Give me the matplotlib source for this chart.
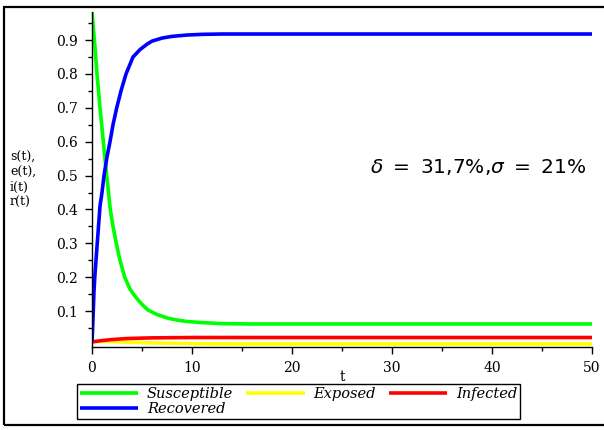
import matplotlib
matplotlib.use("Agg")
import matplotlib.pyplot as plt
from matplotlib.patches import Rectangle
from matplotlib.ticker import MultipleLocator

# values
t_s = [0, 0.15, 0.3, 0.47, 0.65, 0.8, 1.0, 1.13, 1.3, 1.47, 1.65, 1.83, 2.1,
       2.43, 2.8, 3.27, 3.8, 4.2, 4.6, 5.1, 5.6, 6.5, 7.6, 8.6, 9.6, 11, 13,
       16, 20, 30, 40, 50]
s_vals = [0.983, 0.93, 0.88, 0.81, 0.75, 0.7, 0.64, 0.6, 0.55, 0.5, 0.45, 0.4,
          0.35, 0.3, 0.25, 0.2, 0.165, 0.148, 0.133, 0.117, 0.103, 0.09, 0.079,
          0.073, 0.069, 0.066, 0.063, 0.062, 0.062, 0.062, 0.062, 0.062]

t_e = [0, 1, 2, 3, 4, 6, 8, 10, 14, 20, 30, 40, 50]
e_vals = [0.010, 0.011, 0.010, 0.009, 0.008, 0.006, 0.005, 0.004, 0.003,
          0.003, 0.003, 0.003, 0.003]

t_i = [0, 1, 2, 3.5, 6, 10, 20, 30, 40, 50]
i_vals = [0.009, 0.013, 0.016, 0.019, 0.021, 0.022, 0.022, 0.022, 0.022, 0.022]

t_r = [0, 0.05, 0.1, 0.2, 0.3, 0.45, 0.6, 0.8, 1.0, 1.2, 1.5, 1.8, 2.1, 2.47,
       2.9, 3.4, 4.1, 4.8, 5.5, 6.0, 7.0, 8.0, 9.5, 11, 13, 16, 20, 30, 40, 50]
r_vals = [0.01, 0.04, 0.08, 0.16, 0.21, 0.27, 0.33, 0.41, 0.45, 0.5, 0.555,
          0.6, 0.65, 0.7, 0.75, 0.8, 0.85, 0.872, 0.888, 0.897, 0.906, 0.911,
          0.915, 0.917, 0.918, 0.918, 0.918, 0.918, 0.918, 0.918]

labels = ["Susceptible", "Exposed", "Infected", "Recovered"]
colors = ["#00ff00", "#ffff00", "#ff0000", "#0000ff"]

plt.rcParams['mathtext.fontset'] = 'dejavusans'

W, H = 604, 430
fig = plt.figure(figsize=(W / 100, H / 100), dpi=100)
ax = fig.add_axes([92 / W, 83 / H, 500 / W, 335 / H])

series = [(t_s, s_vals), (t_e, e_vals), (t_i, i_vals), (t_r, r_vals)]
lines = []
for (t, v), lab, c in zip(series, labels, colors):
    ln, = ax.plot(t, v, color=c, lw=2.6, label=lab, solid_capstyle='butt',
                  solid_joinstyle='round')
    lines.append(ln)

ax.set_xlim(0, 50)
ax.set_ylim(-0.006, 0.983)
for side in ['top', 'right']:
    ax.spines[side].set_visible(False)
for side in ['left', 'bottom']:
    ax.spines[side].set_linewidth(1.0)

ax.xaxis.set_major_locator(MultipleLocator(10))
ax.xaxis.set_minor_locator(MultipleLocator(5))
ax.set_yticks([0.1, 0.2, 0.3, 0.4, 0.5, 0.6, 0.7, 0.8, 0.9])
ax.set_yticks([0.05, 0.15, 0.25, 0.35, 0.45, 0.55, 0.65, 0.75, 0.85, 0.95],
              minor=True)
ax.tick_params(which='major', direction='out', length=5, width=1,
               labelsize=10, pad=5)
ax.tick_params(which='minor', direction='out', length=3, width=1)
for lbl in ax.get_xticklabels() + ax.get_yticklabels():
    lbl.set_family('DejaVu Serif')

fig.text(342 / W, 1 - 377 / H, 't', family='DejaVu Serif', fontsize=10,
         ha='center', va='center')
fig.text(10 / W, 1 - 180 / H, 's(t),\ne(t),\ni(t)\nr(t)', family='DejaVu Serif',
         fontsize=9, ha='left', va='center', linespacing=1.2)

fig.text(370 / W, 1 - 167 / H, r'$\delta\ =\ 31{,}7\%{,}\sigma\ =\ 21\%$',
         fontsize=14.5, ha='left', va='center')

order = [0, 3, 1, 2]
leg = fig.legend([lines[k] for k in order], [labels[k] for k in order],
                 loc='upper left', bbox_to_anchor=(77 / W, 1 - 384 / H),
                 ncol=3, fancybox=False, framealpha=1, edgecolor='black',
                 borderpad=0.2, handlelength=4.0, handletextpad=0.6,
                 columnspacing=0.9, labelspacing=0.05, borderaxespad=0,
                 prop={'family': 'DejaVu Serif', 'style': 'italic', 'size': 10.5})
leg.get_frame().set_linewidth(1.0)

fig.patches.append(Rectangle((4 / W, 5 / H), 1.0, 418 / H, transform=fig.transFigure,
                             fill=False, edgecolor='black', lw=1.6))

fig.savefig('out.png', dpi=100)
